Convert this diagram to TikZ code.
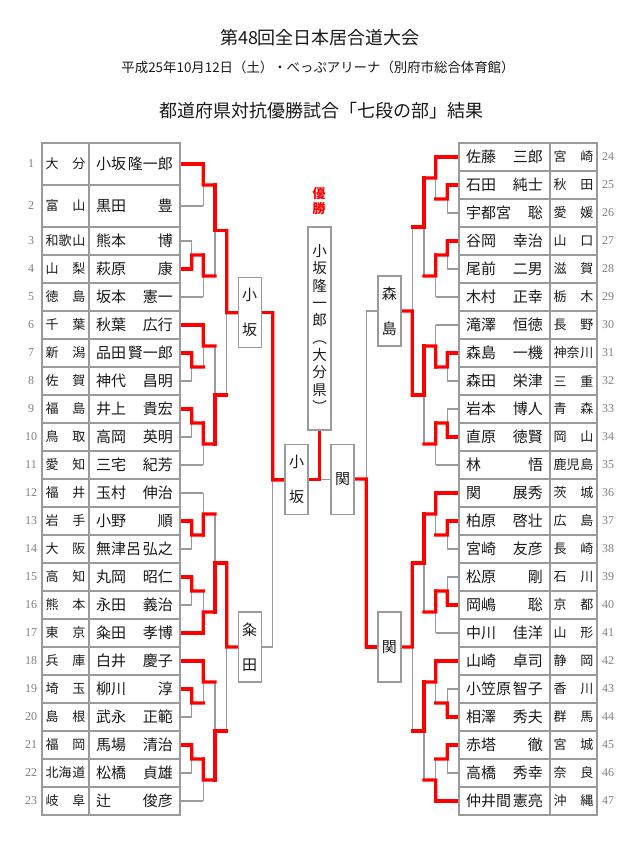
\documentclass[tikz,border=0pt]{standalone}
\usepackage{fontspec}
\setmainfont{Noto Sans CJK JP}
\newfontfamily\numf{Liberation Serif}
\usetikzlibrary{calc}
\pgfdeclarelayer{bgw}
\pgfdeclarelayer{glay}
\pgfdeclarelayer{rlay}
\pgfsetlayers{bgw,glay,rlay,main}
\definecolor{gline}{HTML}{9A9A9A}
\definecolor{numc}{HTML}{808080}
\definecolor{txt}{HTML}{1A1A1A}
\newcommand\nm[2]{\hbox to 77pt{#1\hfill #2}}
\newcommand\pf[2]{\hbox to 40pt{#1\hfill #2}}
\tikzset{
 cell/.style={draw=gline, line width=1.2pt, fill=white, inner sep=0pt, outer sep=0pt, minimum height=28pt, text=txt},
 namecell/.style={cell, minimum width=91pt, font=\fontsize{15}{15}\selectfont},
 prefcell/.style={cell, minimum width=47pt, font=\fontsize{13}{13}\selectfont},
 numlab/.style={font=\numf\fontsize{12}{12}\selectfont, text=numc, inner sep=0pt},
 gl/.style={draw=gline, line width=1.3pt},
 rl/.style={draw=red, line width=3.3pt, line cap=rect, line join=miter},
 qbox/.style={draw=gline, line width=1.3pt, fill=white, minimum width=23pt, minimum height=70pt, inner sep=0pt, outer sep=0pt, align=center, font=\fontsize{15}{35}\selectfont, text=txt},
 ttl/.style={text=txt, inner sep=0pt}
}
\newcommand\lrow[5]{%
 \node[prefcell, minimum height=#3pt] (lp#1) at (65.5,#2) {#4};
 \node[namecell, minimum height=#3pt] (l#1) at (134.5,#2) {#5};
 \node[numlab] (ln#1) at (31,#2) {#1};}
\newcommand\rrow[4]{%
 \node[namecell] (r#1) at (504.5,#2) {#3};
 \node[prefcell] (rp#1) at (573.5,#2) {#4};
 \node[numlab] (rn#1) at (608,#2) {#1};}
\newcommand\mtch[5]{%
 \coordinate (#1t) at (#2);
 \coordinate (#1b) at (#3);
 \coordinate (#1) at ($(#1t)!0.5!(#1b)$);
 \begin{pgfonlayer}{glay}\draw[gl] (#1t) -- (#1b);\end{pgfonlayer}
 \begin{pgfonlayer}{rlay}\draw[rl] (#4) -- (#1) -- (#1 -| #5);\end{pgfonlayer}}
\newcommand\entR[2]{\begin{pgfonlayer}{rlay}\draw[rl] (#1) -- (#1 -| #2);\end{pgfonlayer}}
\newcommand\entG[2]{\begin{pgfonlayer}{glay}\draw[gl] (#1) -- (#1 -| #2);\end{pgfonlayer}}
\begin{document}
\begin{tikzpicture}[x=1pt,y=-1pt]
\begin{pgfonlayer}{bgw}
\fill[white] (0,0) rectangle (640,844);
\end{pgfonlayer}
\useasboundingbox (0,0) rectangle (640,844);
% titles
\node[ttl, font=\fontsize{18}{18}\selectfont] (title) at (320,38) {第48回全日本居合道大会};
\node[ttl, font=\fontsize{13.4}{14}\selectfont] (sub) at (318,67) {平成25年10月12日（土）・べっぷアリーナ（別府市総合体育館）};
\node[ttl, font=\fontsize{18}{18}\selectfont] (head) at (321,111) {都道府県対抗優勝試合「七段の部」結果};
% left table
\lrow{1}{164}{42}{\pf{大}{分}}{\nm{小坂}{隆一郎}}
\lrow{2}{206}{42}{\pf{富}{山}}{\nm{黒田}{豊}}
\lrow{3}{241}{28}{\pf{和歌}{山}}{\nm{熊本}{博}}
\lrow{4}{269}{28}{\pf{山}{梨}}{\nm{萩原}{康}}
\lrow{5}{297}{28}{\pf{徳}{島}}{\nm{坂本}{憲一}}
\lrow{6}{325}{28}{\pf{千}{葉}}{\nm{秋葉}{広行}}
\lrow{7}{353}{28}{\pf{新}{潟}}{\nm{品田}{賢一郎}}
\lrow{8}{381}{28}{\pf{佐}{賀}}{\nm{神代}{昌明}}
\lrow{9}{409}{28}{\pf{福}{島}}{\nm{井上}{貴宏}}
\lrow{10}{437}{28}{\pf{鳥}{取}}{\nm{高岡}{英明}}
\lrow{11}{465}{28}{\pf{愛}{知}}{\nm{三宅}{紀芳}}
\lrow{12}{493}{28}{\pf{福}{井}}{\nm{玉村}{伸治}}
\lrow{13}{521}{28}{\pf{岩}{手}}{\nm{小野}{順}}
\lrow{14}{549}{28}{\pf{大}{阪}}{\nm{無津呂}{弘之}}
\lrow{15}{577}{28}{\pf{高}{知}}{\nm{丸岡}{昭仁}}
\lrow{16}{605}{28}{\pf{熊}{本}}{\nm{永田}{義治}}
\lrow{17}{633}{28}{\pf{東}{京}}{\nm{粂田}{孝博}}
\lrow{18}{661}{28}{\pf{兵}{庫}}{\nm{白井}{慶子}}
\lrow{19}{689}{28}{\pf{埼}{玉}}{\nm{柳川}{淳}}
\lrow{20}{717}{28}{\pf{島}{根}}{\nm{武永}{正範}}
\lrow{21}{745}{28}{\pf{福}{岡}}{\nm{馬場}{清治}}
\lrow{22}{773}{28}{\pf{北海}{道}}{\nm{松橋}{貞雄}}
\lrow{23}{801}{28}{\pf{岐}{阜}}{\nm{辻}{俊彦}}
\draw[gline, line width=1.6pt] (lp1.north west) rectangle (l23.south east);
% right table
\rrow{24}{157}{\nm{佐藤}{三郎}}{\pf{宮}{崎}}
\rrow{25}{185}{\nm{石田}{純士}}{\pf{秋}{田}}
\rrow{26}{213}{\nm{宇都宮}{聡}}{\pf{愛}{媛}}
\rrow{27}{241}{\nm{谷岡}{幸治}}{\pf{山}{口}}
\rrow{28}{269}{\nm{尾前}{二男}}{\pf{滋}{賀}}
\rrow{29}{297}{\nm{木村}{正幸}}{\pf{栃}{木}}
\rrow{30}{325}{\nm{滝澤}{恒徳}}{\pf{長}{野}}
\rrow{31}{353}{\nm{森島}{一機}}{\pf{神奈}{川}}
\rrow{32}{381}{\nm{森田}{栄津}}{\pf{三}{重}}
\rrow{33}{409}{\nm{岩本}{博人}}{\pf{青}{森}}
\rrow{34}{437}{\nm{直原}{徳賢}}{\pf{岡}{山}}
\rrow{35}{465}{\nm{林}{悟}}{\pf{鹿児}{島}}
\rrow{36}{493}{\nm{関}{展秀}}{\pf{茨}{城}}
\rrow{37}{521}{\nm{柏原}{啓壮}}{\pf{広}{島}}
\rrow{38}{549}{\nm{宮崎}{友彦}}{\pf{長}{崎}}
\rrow{39}{577}{\nm{松原}{剛}}{\pf{石}{川}}
\rrow{40}{605}{\nm{岡嶋}{聡}}{\pf{京}{都}}
\rrow{41}{633}{\nm{中川}{佳洋}}{\pf{山}{形}}
\rrow{42}{661}{\nm{山崎}{卓司}}{\pf{静}{岡}}
\rrow{43}{689}{\nm{小笠原}{智子}}{\pf{香}{川}}
\rrow{44}{717}{\nm{相澤}{秀夫}}{\pf{群}{馬}}
\rrow{45}{745}{\nm{赤塔}{徹}}{\pf{宮}{城}}
\rrow{46}{773}{\nm{高橋}{秀幸}}{\pf{奈}{良}}
\rrow{47}{801}{\nm{仲井間}{憲亮}}{\pf{沖}{縄}}
\draw[gline, line width=1.6pt] (r24.north west) rectangle (rp47.south east);
% boxes
\node[qbox] (bxL1) at (249.65,312.75) {小\\坂};
\node[qbox] (bxL2) at (249.65,647) {粂\\田};
\node[qbox] (bxR1) at (389.35,311) {森\\島};
\node[qbox] (bxR2) at (389.35,647) {関};
\node[qbox] (semL) at (296.5,479.5) {小\\坂};
\node[qbox] (semR) at (342.5,479.5) {関};
\node[qbox, minimum height=203pt, font=\fontsize{14.5}{17.3}\selectfont] (champ) at (319.5,328.5) {小\\坂\\隆\\一\\郎\\︵\\大\\分\\県\\︶};
\node[text=red, inner sep=0pt, align=center, font=\bfseries\fontsize{13}{15}\selectfont] (yusho) at (319,201) {優\\勝};
% levels
\coordinate (xA) at (191.7,0);
\coordinate (xB) at (203.3,0);
\coordinate (xC) at (215,0);
\coordinate (xD) at (226.7,0);
\coordinate (xS) at (272.7,0);
\coordinate (rA) at (447.3,0);
\coordinate (rB) at (435.7,0);
\coordinate (rC) at (424,0);
\coordinate (rD) at (412.3,0);
\coordinate (xSR) at (366.3,0);
% ---- left upper quarter
\entR{l1.east}{xB} \entG{l2.east}{xB}
\mtch{a12}{l1.east -| xB}{l2.east -| xB}{l1.east -| xB}{xC}
\entG{l3.east}{xA} \entR{l4.east}{xA} \entG{l5.east}{xB}
\mtch{a34}{l3.east -| xA}{l4.east -| xA}{l4.east -| xA}{xB}
\mtch{a35}{a34 -| xB}{l5.east -| xB}{a34 -| xB}{xC}
\mtch{a15}{a12 -| xC}{a35 -| xC}{a12 -| xC}{xD}
\entR{l6.east}{xB} \entR{l7.east}{xA} \entG{l8.east}{xA}
\mtch{a78}{l7.east -| xA}{l8.east -| xA}{l7.east -| xA}{xB}
\mtch{a68}{l6.east -| xB}{a78 -| xB}{l6.east -| xB}{xC}
\entR{l9.east}{xA} \entG{l10.east}{xA} \entG{l11.east}{xB}
\mtch{a910}{l9.east -| xA}{l10.east -| xA}{l9.east -| xA}{xB}
\mtch{a911}{a910 -| xB}{l11.east -| xB}{a910 -| xB}{xC}
\mtch{a611}{a68 -| xC}{a911 -| xC}{a911 -| xC}{xD}
\mtch{aQa}{a15 -| xD}{a611 -| xD}{a15 -| xD}{bxL1.west}
% ---- left lower quarter
\entG{l12.east}{xB} \entR{l13.east}{xA} \entG{l14.east}{xA}
\mtch{a1314}{l13.east -| xA}{l14.east -| xA}{l13.east -| xA}{xB}
\mtch{a1214}{l12.east -| xB}{a1314 -| xB}{a1314 -| xB}{xC}
\entR{l15.east}{xA} \entG{l16.east}{xA} \entR{l17.east}{xB}
\mtch{a1516}{l15.east -| xA}{l16.east -| xA}{l15.east -| xA}{xB}
\mtch{a1517}{a1516 -| xB}{l17.east -| xB}{l17.east -| xB}{xC}
\mtch{a1217}{a1214 -| xC}{a1517 -| xC}{a1517 -| xC}{xD}
\entR{l18.east}{xB} \entR{l19.east}{xA} \entG{l20.east}{xA}
\mtch{a1920}{l19.east -| xA}{l20.east -| xA}{l19.east -| xA}{xB}
\mtch{a1820}{l18.east -| xB}{a1920 -| xB}{l18.east -| xB}{xC}
\entR{l21.east}{xA} \entG{l22.east}{xA} \entG{l23.east}{xB}
\mtch{a2122}{l21.east -| xA}{l22.east -| xA}{l21.east -| xA}{xB}
\mtch{a2123}{a2122 -| xB}{l23.east -| xB}{a2122 -| xB}{xC}
\mtch{a1823}{a1820 -| xC}{a2123 -| xC}{a2123 -| xC}{xD}
\mtch{aQb}{a1217 -| xD}{a1823 -| xD}{a1217 -| xD}{bxL2.west}
% ---- right upper quarter
\entR{r24.west}{rB} \entR{r25.west}{rA} \entG{r26.west}{rA}
\mtch{b2526}{r25.west -| rA}{r26.west -| rA}{r25.west -| rA}{rB}
\mtch{b2426}{r24.west -| rB}{b2526 -| rB}{r24.west -| rB}{rC}
\entR{r27.west}{rA} \entG{r28.west}{rA} \entG{r29.west}{rB}
\mtch{b2728}{r27.west -| rA}{r28.west -| rA}{r27.west -| rA}{rB}
\mtch{b2729}{b2728 -| rB}{r29.west -| rB}{b2728 -| rB}{rC}
\mtch{b2429}{b2426 -| rC}{b2729 -| rC}{b2426 -| rC}{rD}
\entG{r30.west}{rB} \entR{r31.west}{rA} \entG{r32.west}{rA}
\mtch{b3132}{r31.west -| rA}{r32.west -| rA}{r31.west -| rA}{rB}
\mtch{b3032}{r30.west -| rB}{b3132 -| rB}{b3132 -| rB}{rC}
\entG{r33.west}{rA} \entR{r34.west}{rA} \entG{r35.west}{rB}
\mtch{b3334}{r33.west -| rA}{r34.west -| rA}{r34.west -| rA}{rB}
\mtch{b3335}{b3334 -| rB}{r35.west -| rB}{b3334 -| rB}{rC}
\mtch{b3035}{b3032 -| rC}{b3335 -| rC}{b3032 -| rC}{rD}
\mtch{bQa}{b2429 -| rD}{b3035 -| rD}{b3035 -| rD}{bxR1.east}
% ---- right lower quarter
\entR{r36.west}{rB} \entR{r37.west}{rA} \entG{r38.west}{rA}
\mtch{b3738}{r37.west -| rA}{r38.west -| rA}{r37.west -| rA}{rB}
\mtch{b3638}{r36.west -| rB}{b3738 -| rB}{r36.west -| rB}{rC}
\entG{r39.west}{rA} \entR{r40.west}{rA} \entG{r41.west}{rB}
\mtch{b3940}{r39.west -| rA}{r40.west -| rA}{r40.west -| rA}{rB}
\mtch{b3941}{b3940 -| rB}{r41.west -| rB}{b3940 -| rB}{rC}
\mtch{b3641}{b3638 -| rC}{b3941 -| rC}{b3638 -| rC}{rD}
\entR{r42.west}{rB} \entG{r43.west}{rA} \entR{r44.west}{rA}
\mtch{b4344}{r43.west -| rA}{r44.west -| rA}{r44.west -| rA}{rB}
\mtch{b4244}{r42.west -| rB}{b4344 -| rB}{r42.west -| rB}{rC}
\entR{r45.west}{rA} \entG{r46.west}{rA} \entR{r47.west}{rB}
\mtch{b4546}{r45.west -| rA}{r46.west -| rA}{r45.west -| rA}{rB}
\mtch{b4547}{b4546 -| rB}{r47.west -| rB}{r47.west -| rB}{rC}
\mtch{b4247}{b4244 -| rC}{b4547 -| rC}{b4244 -| rC}{rD}
\mtch{bQb}{b3641 -| rD}{b4247 -| rD}{b3641 -| rD}{bxR2.east}
% ---- semifinals
\entR{bxL1.east}{xS} \entG{bxL2.east}{xS}
\mtch{sL}{bxL1.east -| xS}{bxL2.east -| xS}{bxL1.east -| xS}{semL.west}
\entG{bxR1.west}{xSR} \entR{bxR2.west}{xSR}
\mtch{sR}{bxR1.west -| xSR}{bxR2.west -| xSR}{bxR2.west -| xSR}{semR.east}
% ---- final
\coordinate (fin) at (semL.east -| champ.south);
\begin{pgfonlayer}{rlay}\draw[rl] (semL.east) -- (fin) -- (champ.south);\end{pgfonlayer}
\begin{pgfonlayer}{glay}\draw[gl] (semR.west) -- (semR.west -| champ.south);\end{pgfonlayer}
\end{tikzpicture}
\end{document}
